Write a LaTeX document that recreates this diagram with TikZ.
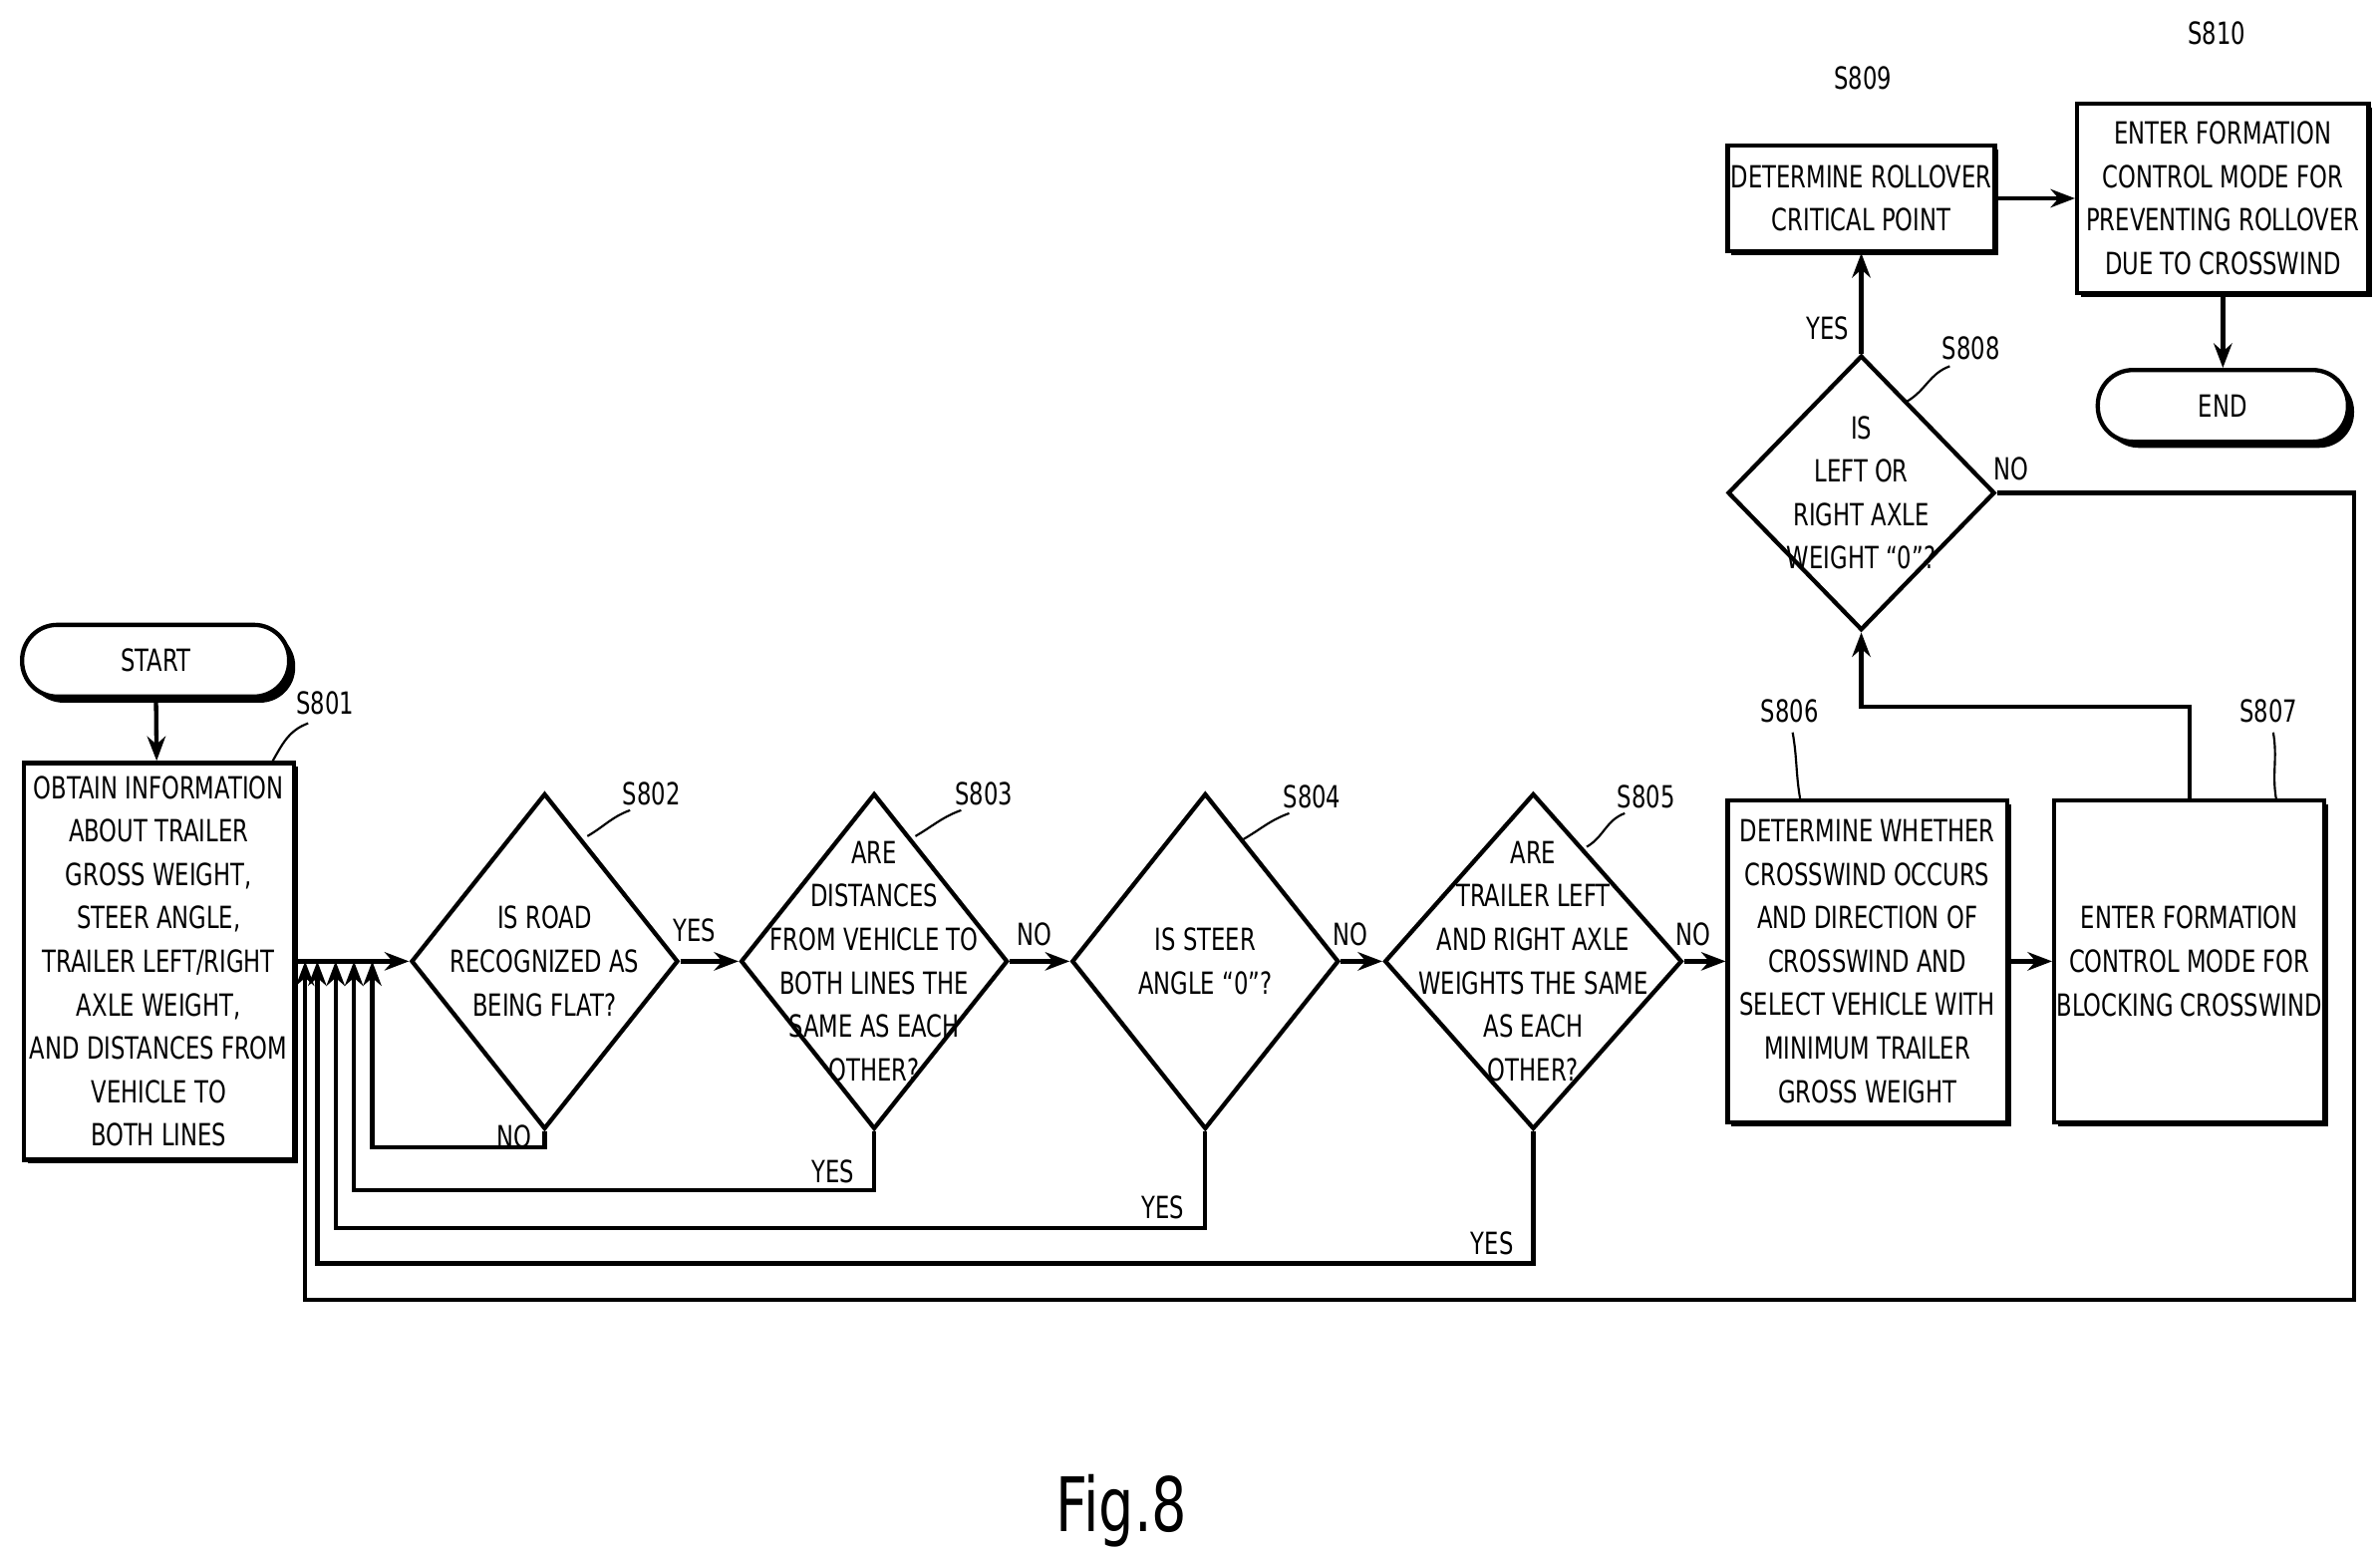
\documentclass[tikz,border=0pt]{standalone}
\usepackage{fontspec}
\setmainfont{DejaVu Sans}[FakeStretch=0.74]
\usepackage{tikz}
\usetikzlibrary{shapes.geometric,shadows,arrows.meta}

\tikzset{
  base/.style={draw, thick, align=center, inner sep=0pt, font=\fontsize{5.7}{8.1}\selectfont},
  box/.style={base, rectangle, fill=white, drop shadow={opacity=1, fill=black, shadow xshift=0.25mm, shadow yshift=-0.25mm}},
  term/.style={box, rounded corners=2.3mm, minimum width=17.5mm, minimum height=4.7mm, drop shadow={opacity=1, fill=black, shadow xshift=0.4mm, shadow yshift=-0.4mm}},
  dec/.style={base, diamond, inner sep=-6mm, minimum width=17.5mm, minimum height=22mm},
  tag/.style={font=\fontsize{5.7}{8}\selectfont},
  flow/.style={thick, -{Stealth[length=1.6mm, width=1.2mm]}},
}

\begin{document}
\begin{tikzpicture}[x=0.1mm, y=-0.1mm]
\useasboundingbox (0,0) rectangle (1560,1018);

% terminals and process steps
\node[term] (start) at (102,433) {START};
\node[box, minimum width=17.7mm, minimum height=26mm] (s801) at (104,630) {OBTAIN INFORMATION\\ABOUT TRAILER\\GROSS WEIGHT,\\STEER ANGLE,\\TRAILER LEFT/RIGHT\\AXLE WEIGHT,\\AND DISTANCES FROM\\VEHICLE TO\\BOTH LINES};
\node[dec] (s802) at (357,630) {IS ROAD\\RECOGNIZED AS\\BEING FLAT?};
\node[dec] (s803) at (573,630) {ARE\\DISTANCES\\FROM VEHICLE TO\\BOTH LINES THE\\SAME AS EACH\\OTHER?};
\node[dec] (s804) at (790,630) {IS STEER\\ANGLE ``0''?};
\node[dec, minimum width=19.5mm] (s805) at (1005,630) {ARE\\TRAILER LEFT\\AND RIGHT AXLE\\WEIGHTS THE SAME\\AS EACH\\OTHER?};
\node[box, minimum width=18.3mm, minimum height=21.1mm] (s806) at (1224,630) {DETERMINE WHETHER\\CROSSWIND OCCURS\\AND DIRECTION OF\\CROSSWIND AND\\SELECT VEHICLE WITH\\MINIMUM TRAILER\\GROSS WEIGHT};
\node[box, minimum width=17.7mm, minimum height=21.1mm] (s807) at (1435,630) {ENTER FORMATION\\CONTROL MODE FOR\\BLOCKING CROSSWIND};
\node[dec, minimum height=18mm] (s808) at (1220,323) {IS\\LEFT OR\\RIGHT AXLE\\WEIGHT ``0''?};
\node[box, minimum width=17.5mm, minimum height=6.9mm] (s809) at (1220,130) {DETERMINE ROLLOVER\\CRITICAL POINT};
\node[box, minimum width=19.1mm, minimum height=12.4mm] (s810) at (1457,130) {ENTER FORMATION\\CONTROL MODE FOR\\PREVENTING ROLLOVER\\DUE TO CROSSWIND};
\node[term, minimum width=16.4mm] (done) at (1457,266) {END};

% loop-back points
\coordinate (j1) at (244,630);
\coordinate (j2) at (232,630);
\coordinate (j3) at (220,630);
\coordinate (j4) at (208,630);
\coordinate (j5) at (200,630);

% main flow
\draw[flow] (start) -- (s801);
\draw[flow] (s801.east) -- (s802.west);
\draw[flow] (s802) -- (s803);
\draw[flow] (s803) -- (s804);
\draw[flow] (s804) -- (s805);
\draw[flow] (s805) -- (s806);
\draw[flow] (s806) -- (s807);
\draw[flow] (s807.north) |- (1220,463) -- (s808.south);
\draw[flow] (s808) -- (s809);
\draw[flow] (s809) -- (s810);
\draw[flow] (s810) -- (done);
\draw[flow] (s802.south) |- (244,752) -- (j1);
\draw[flow] (s803.south) |- (232,780) -- (j2);
\draw[flow] (s804.south) |- (220,805) -- (j3);
\draw[flow] (s805.south) |- (208,828) -- (j4);
\draw[flow] (s808.east) -| (1543,852) -| (j5);

% branch labels
\node[tag] at (455,610) {YES};
\node[tag] at (678,612) {NO};
\node[tag] at (885,612) {NO};
\node[tag] at (1110,612) {NO};
\node[tag] at (337,745) {NO};
\node[tag] at (546,768) {YES};
\node[tag] at (762,791) {YES};
\node[tag] at (978,815) {YES};
\node[tag] at (1198,215) {YES};
\node[tag] at (1318,307) {NO};

% step tags
\node[tag] at (213,461) {S801};
\draw (178,500) to[out=60,in=200] (202,474);
\node[tag] at (427,520) {S802};
\draw (385,548) to[out=30,in=200] (413,531);
\node[tag] at (645,520) {S803};
\draw (600,548) to[out=30,in=200] (630,531);
\node[tag] at (860,522) {S804};
\draw (815,550) to[out=30,in=200] (845,533);
\node[tag] at (1079,522) {S805};
\draw (1040,555) to[out=30,in=200] (1065,533);
\node[tag] at (1173,466) {S806};
\draw (1180,524) to[out=100,in=-80] (1175,480);
\node[tag] at (1487,466) {S807};
\draw (1492,524) to[out=100,in=-80] (1490,480);
\node[tag] at (1292,228) {S808};
\draw (1250,263) to[out=30,in=200] (1278,240);
\node[tag] at (1221,51) {S809};
\node[tag] at (1453,22) {S810};

\node[font=\fontsize{14}{16}\selectfont] (fig) at (735,990) {Fig.8};
\end{tikzpicture}
\end{document}
